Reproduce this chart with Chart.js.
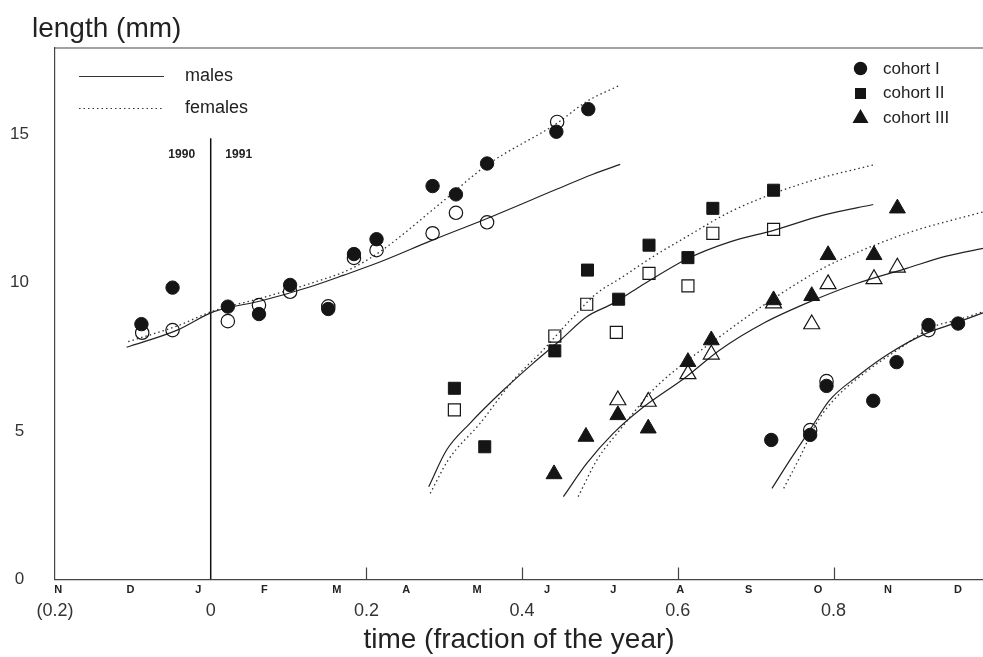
<!DOCTYPE html>
<html>
<head>
<meta charset="utf-8">
<title>length (mm) vs time</title>
<script src="https://cdn.jsdelivr.net/npm/chart.js@4.4.0/dist/chart.umd.min.js"></script>
<style>
  html, body { margin: 0; padding: 0; background: #fff; }
  #wrap { width: 983px; height: 657px; }
</style>
</head>
<body>
<div id="wrap"><canvas id="chart" width="983" height="657"></canvas></div>
<script>
/* ---------- Axis values ---------- */
const xTicks = [-0.2, 0, 0.2, 0.4, 0.6, 0.8];
const yTicks = [0, 5, 10, 15];
const monthLabels = ["N", "D", "J", "F", "M", "A", "M", "J", "J", "A", "S", "O", "N", "D"];
const monthPos = [-0.196, -0.103, -0.016, 0.069, 0.162, 0.251, 0.342, 0.432, 0.517, 0.603, 0.691, 0.780, 0.870, 0.960];

/* year boundary 1990 | 1991 */
const yearSplit = [[0, 0], [0, 14.86]];

/* ---------- Observations [time, length] ---------- */
const cohortIFilled = [
  [-0.089, 8.60], [-0.049, 9.83], [0.022, 9.19], [0.062, 8.94], [0.102, 9.92],
  [0.151, 9.11], [0.184, 10.96], [0.213, 11.46], [0.285, 13.25], [0.315, 12.97],
  [0.355, 14.01], [0.444, 15.08], [0.485, 15.84],
  [0.720, 4.70], [0.770, 4.87], [0.791, 6.52], [0.851, 6.02], [0.881, 7.32],
  [0.922, 8.57], [0.960, 8.62]
];
const cohortIOpen = [
  [-0.088, 8.31], [-0.049, 8.40], [0.022, 8.70], [0.062, 9.24], [0.102, 9.69],
  [0.151, 9.20], [0.184, 10.83], [0.213, 11.09], [0.285, 11.66], [0.315, 12.35],
  [0.355, 12.03], [0.445, 15.41],
  [0.770, 5.03], [0.791, 6.68], [0.922, 8.40]
];
const cohortIIFilled = [
  [0.313, 6.44], [0.352, 4.47], [0.442, 7.70], [0.484, 10.42], [0.524, 9.44],
  [0.563, 11.26], [0.613, 10.84], [0.645, 12.50], [0.723, 13.11]
];
const cohortIIOpen = [
  [0.313, 5.71], [0.442, 8.20], [0.483, 9.27], [0.521, 8.32], [0.563, 10.31],
  [0.613, 9.89], [0.645, 11.66], [0.723, 11.79]
];
const cohortIIIFilled = [
  [0.441, 3.55], [0.482, 4.81], [0.523, 5.54], [0.562, 5.09], [0.613, 7.33],
  [0.643, 8.06], [0.723, 9.41], [0.772, 9.55], [0.793, 10.93], [0.852, 10.93],
  [0.882, 12.50]
];
const cohortIIIOpen = [
  [0.523, 6.04], [0.562, 5.99], [0.613, 6.92], [0.643, 7.58], [0.723, 9.30],
  [0.772, 8.60], [0.793, 9.95], [0.852, 10.12], [0.882, 10.51]
];

/* ---------- Fitted growth curves (traced) ---------- */
const malesI = [
  [-0.108, 7.82], [-0.043, 8.40], [0.004, 9.02], [0.064, 9.38], [0.128, 9.86],
  [0.171, 10.25], [0.218, 10.70], [0.284, 11.42], [0.355, 12.16], [0.445, 13.15],
  [0.491, 13.65], [0.526, 13.98]
];
const femalesI = [
  [-0.106, 8.01], [-0.043, 8.54], [0.004, 9.05], [0.064, 9.47], [0.128, 9.97],
  [0.179, 10.45], [0.218, 11.05], [0.292, 12.60], [0.355, 13.96], [0.445, 15.37],
  [0.483, 16.10], [0.526, 16.65]
];
const malesIb = [
  [0.721, 3.07], [0.744, 4.02], [0.771, 5.09], [0.795, 6.04], [0.830, 6.83],
  [0.872, 7.62], [0.919, 8.29], [0.958, 8.65], [0.992, 8.98]
];
const femalesIb = [
  [0.736, 3.07], [0.757, 4.13], [0.778, 5.26], [0.800, 6.04], [0.842, 7.00],
  [0.885, 7.78], [0.928, 8.51], [0.962, 8.76], [0.992, 9.02]
];
const malesII = [
  [0.280, 3.12], [0.303, 4.36], [0.333, 5.26], [0.376, 6.38], [0.414, 7.28],
  [0.449, 8.06], [0.483, 8.85], [0.517, 9.30], [0.551, 9.86], [0.613, 10.81],
  [0.667, 11.37], [0.723, 11.76], [0.787, 12.27], [0.851, 12.63]
];
const femalesII = [
  [0.282, 2.90], [0.305, 4.02], [0.346, 5.26], [0.389, 6.72], [0.427, 7.73],
  [0.462, 8.74], [0.496, 9.64], [0.526, 10.14], [0.568, 10.87], [0.611, 11.54],
  [0.667, 12.38], [0.723, 13.00], [0.782, 13.51], [0.851, 13.96]
];
const malesIII = [
  [0.453, 2.79], [0.483, 3.91], [0.517, 4.92], [0.551, 5.71], [0.611, 6.83],
  [0.654, 7.73], [0.710, 8.63], [0.772, 9.38], [0.830, 9.97], [0.894, 10.48],
  [0.945, 10.89], [0.992, 11.15]
];
const femalesIII = [
  [0.472, 2.79], [0.496, 4.02], [0.526, 5.05], [0.568, 6.38], [0.616, 7.45],
  [0.654, 8.18], [0.680, 8.68], [0.725, 9.50], [0.782, 10.42], [0.808, 10.76],
  [0.894, 11.66], [0.992, 12.38]
];

/* ---------- Styles ---------- */
const FONT = '"Liberation Sans", Arial, Helvetica, sans-serif';
const INK = "#151515";
const pts = (arr) => arr.map(([x, y]) => ({ x, y }));

const marks = (data, style, filled, radius) => ({
  data: pts(data),
  showLine: false,
  pointStyle: style,
  pointRadius: radius,
  pointHoverRadius: radius,
  pointBackgroundColor: filled ? INK : "rgba(0,0,0,0)",
  backgroundColor: filled ? INK : "rgba(0,0,0,0)",
  pointBorderColor: INK,
  borderColor: INK,
  pointBorderWidth: filled ? 1 : 1.2
});

const curve = (data, dotted) => ({
  data: pts(data),
  showLine: true,
  pointRadius: 0,
  fill: false,
  borderColor: dotted ? "#333" : "#222",
  borderWidth: dotted ? 1.3 : 1.2,
  borderDash: dotted ? [1.5, 3] : [],
  cubicInterpolationMode: "monotone"
});

const datasets = [
  marks(cohortIFilled, "circle", true, 6.7),
  marks(cohortIIFilled, "rect", true, 8.5),
  marks(cohortIIIFilled, "triangle", true, 9.2),
  marks(cohortIOpen, "circle", false, 6.7),
  marks(cohortIIOpen, "rect", false, 8.5),
  marks(cohortIIIOpen, "triangle", false, 9.2),
  curve(malesI, false), curve(femalesI, true),
  curve(malesIb, false), curve(femalesIb, true),
  curve(malesII, false), curve(femalesII, true),
  curve(malesIII, false), curve(femalesIII, true),
  { data: pts(yearSplit), showLine: true, pointRadius: 0, borderColor: "#111", borderWidth: 1.5, tension: 0 }
];

/* ---------- Extra decoration: frame top, inward ticks, months, legends ---------- */
const decor = {
  id: "decor",
  afterDraw(chart) {
    const ctx = chart.ctx;
    const { left, top, right, bottom } = chart.chartArea;
    const xs = chart.scales.x;
    ctx.save();

    // top frame line
    ctx.strokeStyle = "#444"; ctx.lineWidth = 1.2;
    ctx.beginPath(); ctx.moveTo(left, top); ctx.lineTo(right, top); ctx.stroke();

    // ticks pointing up into the plot
    [0.2, 0.4, 0.6, 0.8].forEach(v => {
      const px = Math.round(xs.getPixelForValue(v)) + 0.5;
      ctx.beginPath(); ctx.moveTo(px, bottom); ctx.lineTo(px, bottom - 12); ctx.stroke();
    });

    // month letters
    ctx.fillStyle = "#222";
    ctx.font = "bold 11px " + FONT;
    ctx.textAlign = "center"; ctx.textBaseline = "middle";
    monthLabels.forEach((m, i) => ctx.fillText(m, xs.getPixelForValue(monthPos[i]), bottom + 10));

    // y title
    ctx.font = "28px " + FONT;
    ctx.textAlign = "left"; ctx.textBaseline = "alphabetic";
    ctx.fillText("length (mm)", 32, 37);

    // year labels
    ctx.font = "bold 12px " + FONT;
    ctx.textAlign = "center"; ctx.textBaseline = "middle";
    const x0 = xs.getPixelForValue(0);
    ctx.fillText("1990", x0 - 29, 155);
    ctx.fillText("1991", x0 + 28, 155);

    // line legend
    ctx.font = "18px " + FONT;
    ctx.textAlign = "left";
    ctx.strokeStyle = "#333"; ctx.lineWidth = 1.2;
    ctx.beginPath(); ctx.moveTo(79, 76.5); ctx.lineTo(164, 76.5); ctx.stroke();
    ctx.setLineDash([1.5, 3]);
    ctx.beginPath(); ctx.moveTo(79, 108.5); ctx.lineTo(164, 108.5); ctx.stroke();
    ctx.setLineDash([]);
    ctx.fillText("males", 185, 76);
    ctx.fillText("females", 185, 108);

    // symbol legend
    ctx.fillStyle = INK;
    ctx.beginPath(); ctx.arc(860.5, 68.5, 6.7, 0, Math.PI * 2); ctx.fill();
    ctx.fillRect(855, 88, 11, 11);
    ctx.beginPath(); ctx.moveTo(860.5, 109); ctx.lineTo(868.5, 123); ctx.lineTo(852.5, 123); ctx.closePath(); ctx.fill();
    ctx.fillStyle = "#222";
    ctx.font = "17px " + FONT;
    ctx.fillText("cohort I", 883, 69);
    ctx.fillText("cohort II", 883, 93);
    ctx.fillText("cohort III", 883, 118);

    ctx.restore();
  }
};

/* ---------- Chart ---------- */
new Chart(document.getElementById("chart"), {
  type: "scatter",
  data: { datasets },
  options: {
    responsive: false,
    animation: false,
    layout: { autoPadding: false, padding: { top: 48, right: 0, bottom: 0, left: 0 } },
    plugins: { legend: { display: false }, tooltip: { enabled: false } },
    scales: {
      x: {
        type: "linear",
        min: -0.2,
        max: 0.992,
        afterBuildTicks: s => { s.ticks = xTicks.map(v => ({ value: v })); },
        afterFit: s => { s.height = 77.5; },
        grid: { display: false, drawTicks: false },
        border: { display: true, color: "#444", width: 1.2 },
        ticks: {
          padding: 21, color: "#333", maxRotation: 0, autoSkip: false,
          font: { family: FONT, size: 18 },
          callback: v => (v === -0.2 ? "(0.2)" : String(v))
        },
        title: {
          display: true, text: "time (fraction of the year)", color: "#222",
          font: { family: FONT, size: 28 }, padding: { top: 0, bottom: 0 }
        }
      },
      y: {
        type: "linear",
        min: 0,
        max: 17.9,
        afterBuildTicks: s => { s.ticks = yTicks.map(v => ({ value: v })); },
        afterFit: s => { s.width = 55; },
        grid: { display: false, drawTicks: false },
        border: { display: true, color: "#444", width: 1.2 },
        ticks: {
          padding: 26, crossAlign: "center", color: "#333",
          font: { family: FONT, size: 17 }
        }
      }
    }
  },
  plugins: [decor]
});
</script>
</body>
</html>
